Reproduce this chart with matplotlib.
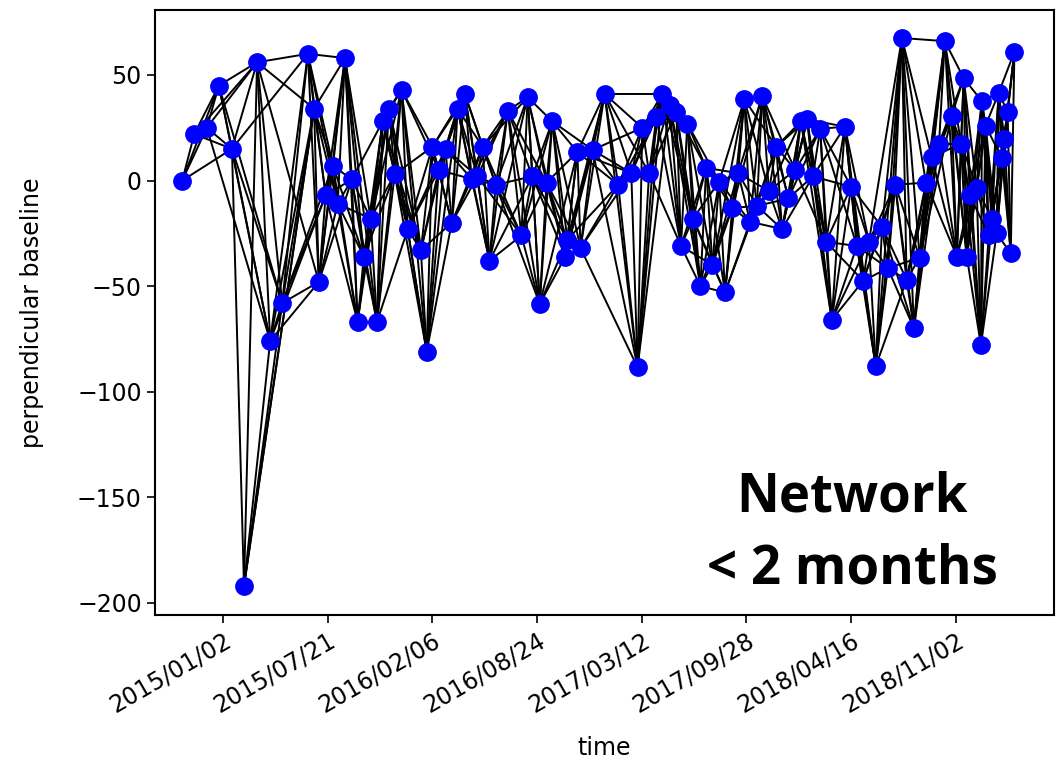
import matplotlib
matplotlib.use("Agg")
import matplotlib.pyplot as plt
import pandas as pd

# Acquisition epochs (days relative to REF_DATE) and perpendicular baselines (m)
REF_DATE = "2015-01-02"
days = [
    -78, -55, -31, -8, 17, 40, 65, 90, 113, 162,
    174, 183, 196, 210, 219, 233, 246, 257, 269, 282,
    294, 305, 317, 328, 341, 353, 378, 389, 400, 412,
    425, 437, 448, 462, 475, 486, 496, 509, 521, 544,
    570, 582, 591, 605, 618, 629, 654, 658, 677, 683,
    706, 729, 755, 780, 792, 801, 814, 828, 839, 853,
    866, 875, 887, 898, 912, 923, 935, 948, 959, 973,
    984, 996, 1007, 1020, 1030, 1043, 1057, 1068, 1080, 1093,
    1104, 1116, 1127, 1141, 1152, 1163, 1188, 1200, 1211, 1223,
    1234, 1247, 1259, 1270, 1284, 1297, 1306, 1320, 1331, 1343,
    1354, 1368, 1379, 1392, 1402, 1410, 1415, 1421, 1427, 1440,
    1448, 1450, 1457, 1463, 1469, 1478, 1482, 1488, 1493, 1499,
    1505, 1512,
]
bperp = [
    0, 22, 25, 45, 15, -192, 56, -76, -58, 60,
    34, -48, -7, 7, -11, 58, 0.5, -67, -36, -18,
    -67, 28, 34, 3, 43, -23, -33, -81, 16, 5,
    15, -20, 34, 41, 0.7, 2, 16, -38, -2, 33,
    -26, 39.5, 2, -58.5, -1, 28, -36, -28, 13.5, -32,
    14.5, 41, -2, 3.5, -88.5, 25, 3.5, 30, 41, 36,
    32.5, -31, 27, -18, -50, 6, -40, -0.5, -53, -13,
    3.5, 38.5, -19.5, -12, 40, -5, 16, -23, -8.5, 5,
    28, 29, 2, 24.5, -29, -66, 25.5, -3, -31, -47.5,
    -29, -88, -22, -41.5, -2, 67.5, -47, -70, -36.5, -1,
    11, 17.5, 66, 30.5, -36, 17.5, 48.5, -36, -7, -3.5,
    -78, 37.5, 26, -26, -18, -25, 41.5, 10.5, 19.5, 32.5,
    -34.5, 61,
]

# Interferogram network: each acquisition paired with the following ones,
# plus a few longer pairs and minus a few skipped pairs
NEIGHBOURS = 5
extra_pairs = [(9, 15), (51, 58), (95, 102), (5, 10)]
skipped_pairs = [(1, 5), (2, 5), (3, 5), (5, 9), (0, 5)]

xtick_labels = ["2015/01/02", "2015/07/21", "2016/02/06", "2016/08/24",
                "2017/03/12", "2017/09/28", "2018/04/16", "2018/11/02"]

ref = pd.Timestamp(REF_DATE)
dates = [ref + pd.Timedelta(days=int(d)) for d in days]

pairs = []
n = len(dates)
for i in range(n):
    for j in range(i + 1, min(i + 1 + NEIGHBOURS, n)):
        pairs.append((i, j))
pairs = [p for p in pairs if p not in skipped_pairs] + extra_pairs

fig = plt.figure(figsize=(10.56, 7.62), dpi=100)
ax = fig.add_axes([0.1468, 0.193, 0.851, 0.794])

for i, j in pairs:
    ax.plot([dates[i], dates[j]], [bperp[i], bperp[j]], color="black",
            lw=1.4, zorder=1)
ax.plot(dates, bperp, "o", color="blue", markersize=12.5, zorder=2,
        linestyle="none")

ax.set_xlim(ref - pd.Timedelta(days=130), ref + pd.Timedelta(days=1587))
ax.set_ylim(-205.7, 80.8)
ax.set_yticks([50, 0, -50, -100, -150, -200])

xticks = [pd.Timestamp(s.replace("/", "-")) for s in xtick_labels]
ax.set_xticks(xticks)
ax.set_xticklabels(xtick_labels, rotation=30, ha="right", rotation_mode="anchor")
ax.tick_params(axis="both", labelsize=17, length=6, width=1.2)
for s in ax.spines.values():
    s.set_linewidth(1.5)

ax.set_xlabel("time", fontsize=17, labelpad=14)
ax.set_ylabel("perpendicular baseline", fontsize=17, labelpad=24)

fig.text(852 / 1056, 1 - 497 / 762, "Network", ha="center", va="center",
         fontsize=38, fontweight="bold", family="Open Sans")
fig.text(852 / 1056, 1 - 570 / 762, "< 2 months", ha="center", va="center",
         fontsize=38, fontweight="bold", family="Open Sans")

fig.savefig("out.png", dpi=100)
